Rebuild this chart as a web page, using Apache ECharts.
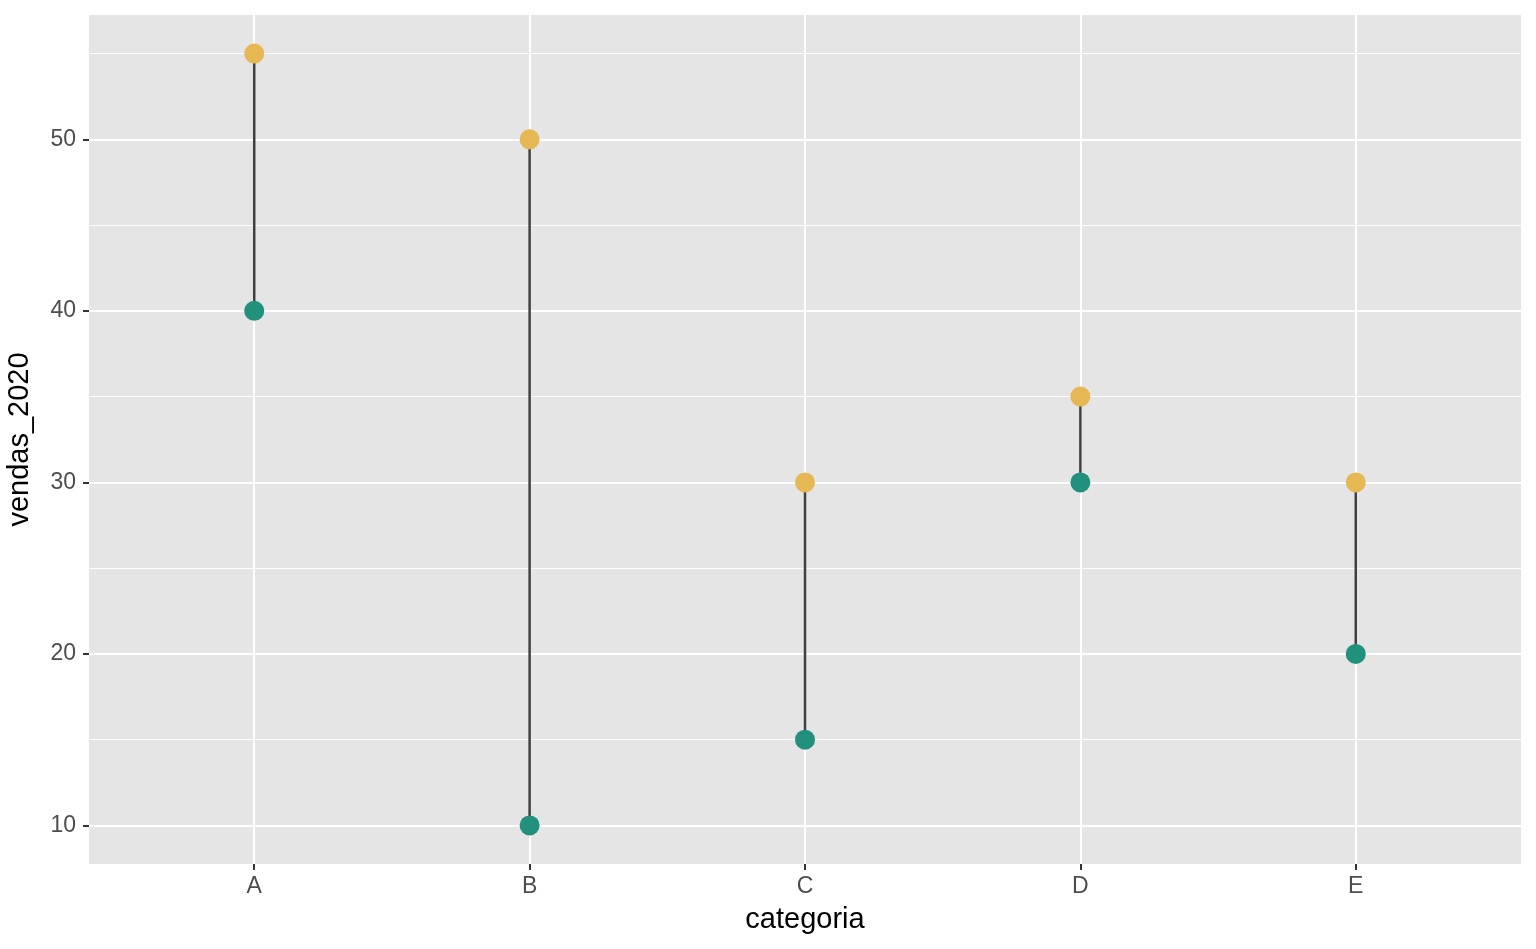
<!DOCTYPE html>
<html>
<head>
<meta charset="utf-8">
<script src="https://cdn.jsdelivr.net/npm/echarts@6/dist/echarts.min.js"></script>
<style>
html,body{margin:0;padding:0;background:#fff;}
#chart{width:1536px;height:949px;}
</style>
</head>
<body>
<div id="chart"></div>
<script>
const categories = ['A', 'B', 'C', 'D', 'E'];
const vendas_2020 = [40, 10, 15, 30, 20];
const vendas_2021 = [55, 50, 30, 35, 30];
const yMajorTicks = [10, 20, 30, 40, 50];
const yMinorTicks = [15, 25, 35, 45, 55];

const xPos = categories.map((c, i) => i + 1);
const FONT = "'Liberation Sans', Arial, sans-serif";

const chart = echarts.init(document.getElementById('chart'), null, {renderer: 'canvas'});

const gridLines = [];
yMajorTicks.forEach(v => gridLines.push({yAxis: v, lineStyle: {width: 2}}));
yMinorTicks.forEach(v => gridLines.push({yAxis: v, lineStyle: {width: 1}}));
xPos.forEach(v => gridLines.push({xAxis: v, lineStyle: {width: 2}}));

chart.setOption({
  animation: false,
  backgroundColor: '#ffffff',
  grid: {left: 89, right: 15, top: 15, bottom: 85, show: true, backgroundColor: '#E5E5E5', borderWidth: 0,
    containLabel: false, outerBoundsMode: 'none'},
  xAxis: {
    type: 'value', min: 0.4, max: 5.6,
    name: 'categoria', nameLocation: 'middle', nameGap: 41,
    nameTextStyle: {fontFamily: FONT, fontSize: 29, color: '#000'},
    axisLine: {show: false},
    axisTick: {show: true, length: 6, customValues: xPos, lineStyle: {color: '#333333', width: 2}},
    axisLabel: {customValues: xPos, margin: 11, fontFamily: FONT, fontSize: 23, color: '#4D4D4D',
      formatter: v => categories[Math.round(v) - 1] || ''},
    splitLine: {show: false}
  },
  yAxis: {
    type: 'value', min: 7.75, max: 57.25,
    name: 'vendas_2020', nameLocation: 'middle', nameGap: 55,
    nameTextStyle: {fontFamily: FONT, fontSize: 29, color: '#000'},
    axisLine: {show: false},
    axisTick: {show: true, length: 6, customValues: yMajorTicks, lineStyle: {color: '#333333', width: 2}},
    axisLabel: {customValues: yMajorTicks, margin: 13, fontFamily: FONT, fontSize: 23, color: '#4D4D4D'},
    splitLine: {show: false}
  },
  series: [
    {
      type: 'scatter', data: [], z: 1, silent: true,
      markLine: {silent: true, z: 1, symbol: 'none', label: {show: false},
        lineStyle: {color: '#ffffff', type: 'solid'}, emphasis: {disabled: true}, data: gridLines}
    },
    {
      type: 'custom', z: 10, silent: true,
      data: categories.map((c, i) => [xPos[i], vendas_2020[i], vendas_2021[i]]),
      encode: {x: 0, y: [1, 2]},
      renderItem: function (params, api) {
        const p1 = api.coord([api.value(0), api.value(1)]);
        const p2 = api.coord([api.value(0), api.value(2)]);
        return {type: 'line', shape: {x1: p1[0], y1: p1[1], x2: p2[0], y2: p2[1]},
          style: {stroke: '#404040', lineWidth: 2.5}};
      }
    },
    {
      type: 'scatter', z: 11, symbol: 'circle', symbolSize: 20,
      data: categories.map((c, i) => [xPos[i], vendas_2020[i]]),
      itemStyle: {color: '#21907C', opacity: 1}
    },
    {
      type: 'scatter', z: 11, symbol: 'circle', symbolSize: 20,
      data: categories.map((c, i) => [xPos[i], vendas_2021[i]]),
      itemStyle: {color: '#E5B853', opacity: 1}
    }
  ]
});
</script>
</body>
</html>
